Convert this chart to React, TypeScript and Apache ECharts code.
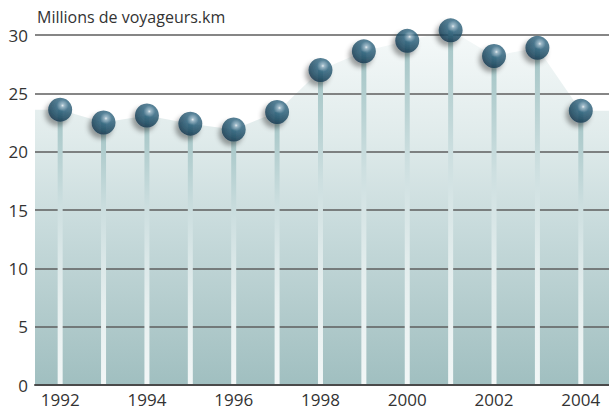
import React, { useEffect, useRef } from "react";
import * as echarts from "echarts";

const years = [1992, 1993, 1994, 1995, 1996, 1997, 1998, 1999, 2000, 2001, 2002, 2003, 2004];
const values = [23.6, 22.5, 23.1, 22.4, 21.9, 23.4, 27.0, 28.6, 29.5, 30.4, 28.2, 28.9, 23.5];
const yearLabels = [1992, 1994, 1996, 1998, 2000, 2002, 2004];
const xMin = 1991.42;
const xMax = 2004.65;
const title = "Millions de voyageurs.km";

export default function App() {
  const ref = useRef<HTMLDivElement>(null);
  useEffect(() => {
    if (!ref.current) return;
    const chart = echarts.init(ref.current, null, { renderer: "svg" });
    const pts = years.map((y, i) => [y, values[i]]);
    const areaPts = [[xMin, values[0]], ...pts, [xMax, values[values.length - 1]]];
    const font = "'Open Sans', 'DejaVu Sans', sans-serif";
    chart.setOption({
      animation: false,
      backgroundColor: "#ffffff",
      grid: { left: 35, right: 0, top: 35, bottom: 27, containLabel: false },
      graphic: [
        {
          type: "text",
          left: 37,
          top: 9,
          style: { text: title, fontSize: 16, fontFamily: font, fill: "#333333" },
        },
      ],
      xAxis: {
        type: "value",
        min: xMin,
        max: xMax,
        z: 5,
        splitLine: { show: false },
        axisTick: { show: false },
        axisLine: { show: true, lineStyle: { color: "#4a4a4a", width: 2 } },
        axisLabel: {
          customValues: yearLabels,
          formatter: (v: number) => String(v),
          fontSize: 17,
          fontFamily: font,
          color: "#333333",
          margin: 6,
        },
      },
      yAxis: {
        type: "value",
        min: 0,
        max: 30,
        interval: 5,
        z: 1,
        axisLine: { show: false },
        axisTick: { show: false },
        axisLabel: { fontSize: 17, fontFamily: font, color: "#333333", margin: 7 },
        splitLine: { show: true, lineStyle: { color: "#5e5e5e", width: 1.5 } },
      },
      series: [
        {
          type: "line",
          data: areaPts,
          z: 0,
          clip: false,
          showSymbol: false,
          symbol: "none",
          lineStyle: { width: 0 },
          silent: true,
          areaStyle: {
            opacity: 1,
            color: new echarts.graphic.LinearGradient(0, 0, 0, 1, [
              { offset: 0, color: "#f5f9f9" },
              { offset: 0.3, color: "#e0ebeb" },
              { offset: 0.55, color: "#c8dbdc" },
              { offset: 0.8, color: "#b2cbcc" },
              { offset: 1, color: "#a0bfc0" },
            ]),
          },
        },
        {
          type: "bar",
          data: pts,
          z: 3,
          clip: false,
          barWidth: 5,
          silent: true,
          itemStyle: {
            color: new echarts.graphic.LinearGradient(0, 0, 0, 1, [
              { offset: 0, color: "#a3c4c5" },
              { offset: 0.35, color: "#cddfe0" },
              { offset: 0.7, color: "#e6efef" },
              { offset: 1, color: "#f2f7f7" },
            ]),
          },
        },
        {
          type: "scatter",
          data: pts,
          z: 4,
          clip: false,
          symbolSize: 24,
          itemStyle: {
            color: new echarts.graphic.RadialGradient(0.6, 0.33, 0.7, [
              { offset: 0, color: "#e8f0f4" },
              { offset: 0.1, color: "#8eb0c2" },
              { offset: 0.35, color: "#2f6580" },
              { offset: 0.75, color: "#1d4a62" },
              { offset: 1, color: "#12334a" },
            ]),
            shadowBlur: 5,
            shadowOffsetX: -3,
            shadowOffsetY: 4,
            shadowColor: "rgba(0,0,0,0.45)",
          },
        },
      ],
    });
    return () => chart.dispose();
  }, []);
  return <div ref={ref} style={{ width: 609, height: 412, position: "absolute", left: 0, top: 0 }} />;
}
